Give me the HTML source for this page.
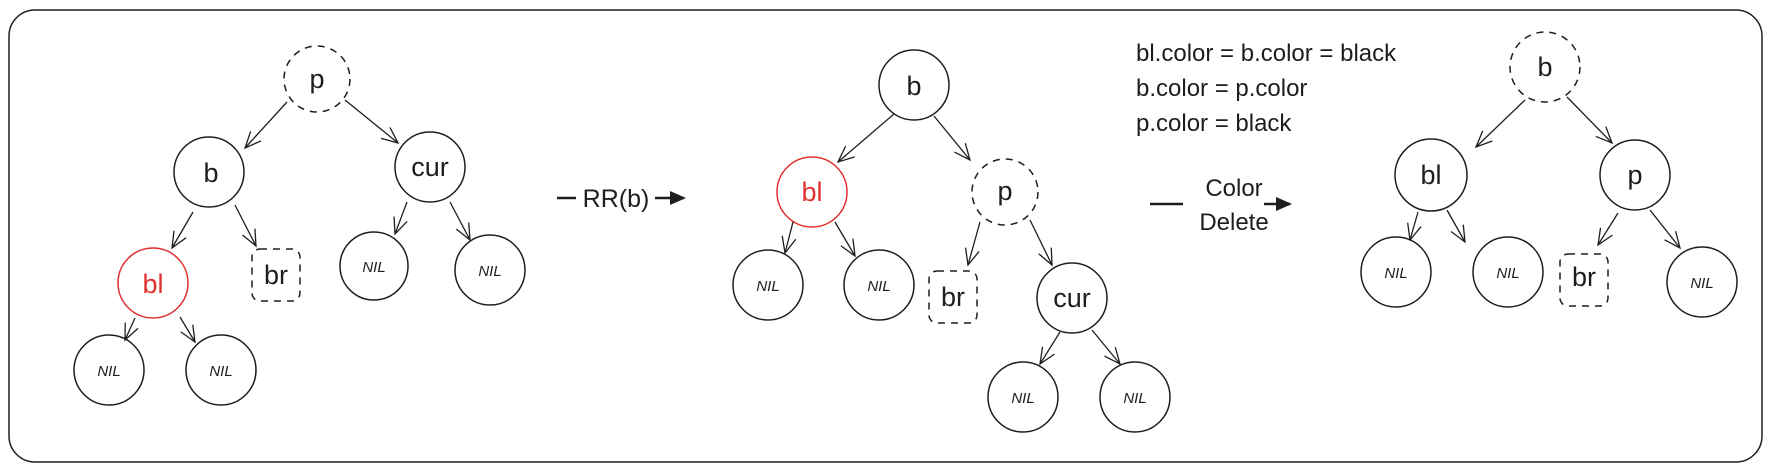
<!DOCTYPE html>
<html><head><meta charset="utf-8"><style>
html,body{margin:0;padding:0;background:#fff}
svg{display:block}
text{font-family:"Liberation Sans",sans-serif;fill:#1e1e1e}
</style></head><body>
<svg width="1774" height="471" viewBox="0 0 1774 471" xmlns="http://www.w3.org/2000/svg">
<defs>
<marker id="a" viewBox="0 0 20 20" refX="18" refY="10" markerWidth="20" markerHeight="20" orient="auto" markerUnits="userSpaceOnUse">
<path d="M2,3 L18,10 L2,17" fill="none" stroke="#1e1e1e" stroke-width="1.3"/>
</marker>
<marker id="f" viewBox="0 0 20 20" refX="16" refY="10" markerWidth="20" markerHeight="20" orient="auto" markerUnits="userSpaceOnUse">
<path d="M2,3 L18,10 L2,17 Z" fill="#1e1e1e"/>
</marker>
</defs>
<rect x="9" y="10" width="1753" height="452" rx="26" fill="none" stroke="#1e1e1e" stroke-width="1.5"/>
<g fill="none" stroke="#1e1e1e" stroke-width="1.5">
<circle cx="317" cy="79" r="33" stroke-dasharray="7 6"/>
<circle cx="209" cy="172" r="35"/>
<circle cx="430" cy="167" r="35"/>
<circle cx="153" cy="283" r="35" stroke="#e03131"/>
<rect x="252" y="249" width="48" height="52" rx="8" stroke-dasharray="7 6"/>
<circle cx="374" cy="266" r="34"/>
<circle cx="490" cy="270" r="35"/>
<circle cx="109" cy="370" r="35"/>
<circle cx="221" cy="370" r="35"/>
<circle cx="914" cy="85" r="35"/>
<circle cx="812" cy="192" r="35" stroke="#e03131"/>
<circle cx="1005" cy="192" r="33" stroke-dasharray="7 6"/>
<circle cx="768" cy="285" r="35"/>
<circle cx="879" cy="285" r="35"/>
<rect x="929" y="271" width="48" height="52" rx="8" stroke-dasharray="7 6"/>
<circle cx="1072" cy="298" r="35"/>
<circle cx="1023" cy="397" r="35"/>
<circle cx="1135" cy="397" r="35"/>
<circle cx="1545" cy="67" r="35" stroke-dasharray="7 6"/>
<circle cx="1431" cy="175" r="36"/>
<circle cx="1635" cy="175" r="35"/>
<circle cx="1396" cy="272" r="35"/>
<circle cx="1508" cy="272" r="35"/>
<rect x="1560" y="254" width="48" height="52" rx="8" stroke-dasharray="7 6"/>
<circle cx="1702" cy="282" r="35"/>
</g>
<g stroke="#1e1e1e" stroke-width="1.3" fill="none" marker-end="url(#a)">
<line x1="287" y1="102" x2="245" y2="148"/>
<line x1="345" y1="100" x2="398" y2="143"/>
<line x1="193" y1="212" x2="172" y2="248"/>
<line x1="235" y1="205" x2="256" y2="246"/>
<line x1="407" y1="202" x2="395" y2="234"/>
<line x1="450" y1="202" x2="470" y2="240"/>
<line x1="135" y1="318" x2="125" y2="340"/>
<line x1="180" y1="317" x2="195" y2="342"/>
<line x1="894" y1="114" x2="838" y2="162"/>
<line x1="934" y1="116" x2="970" y2="160"/>
<line x1="793" y1="222" x2="785" y2="253"/>
<line x1="835" y1="222" x2="855" y2="256"/>
<line x1="980" y1="222" x2="968" y2="265"/>
<line x1="1030" y1="220" x2="1052" y2="265"/>
<line x1="1060" y1="332" x2="1040" y2="364"/>
<line x1="1092" y1="330" x2="1120" y2="364"/>
<line x1="1525" y1="100" x2="1476" y2="147"/>
<line x1="1567" y1="97" x2="1612" y2="143"/>
<line x1="1418" y1="212" x2="1410" y2="240"/>
<line x1="1447" y1="210" x2="1465" y2="242"/>
<line x1="1618" y1="213" x2="1598" y2="245"/>
<line x1="1650" y1="210" x2="1680" y2="248"/>
</g>
<g stroke="#1e1e1e" stroke-width="2.5">
<line x1="557" y1="198" x2="576" y2="198"/>
<line x1="655" y1="198" x2="684" y2="198" marker-end="url(#f)"/>
<line x1="1150" y1="204" x2="1183" y2="204"/>
<line x1="1264" y1="204" x2="1290" y2="204" marker-end="url(#f)"/>
</g>
<g text-anchor="middle" font-size="27">
<text x="317" y="88">p</text>
<text x="211" y="182">b</text>
<text x="430" y="176">cur</text>
<text x="153" y="293" style="fill:#e03131">bl</text>
<text x="276" y="284">br</text>
<text x="914" y="95">b</text>
<text x="812" y="201" style="fill:#e03131">bl</text>
<text x="1005" y="200">p</text>
<text x="953" y="306">br</text>
<text x="1072" y="307">cur</text>
<text x="1545" y="76">b</text>
<text x="1431" y="184">bl</text>
<text x="1635" y="184">p</text>
<text x="1584" y="286">br</text>
<text x="616" y="207" font-size="25">RR(b)</text>
<text x="1234" y="196" font-size="24">Color</text>
<text x="1234" y="230" font-size="24">Delete</text>
</g>
<g text-anchor="middle" font-size="15" font-style="italic">
<text x="374" y="272">NIL</text>
<text x="490" y="276">NIL</text>
<text x="109" y="376">NIL</text>
<text x="221" y="376">NIL</text>
<text x="768" y="291">NIL</text>
<text x="879" y="291">NIL</text>
<text x="1023" y="403">NIL</text>
<text x="1135" y="403">NIL</text>
<text x="1396" y="278">NIL</text>
<text x="1508" y="278">NIL</text>
<text x="1702" y="288">NIL</text>
</g>
<g font-size="24">
<text x="1136" y="61">bl.color = b.color = black</text>
<text x="1136" y="96">b.color = p.color</text>
<text x="1136" y="131">p.color = black</text>
</g>
</svg>
</body></html>
